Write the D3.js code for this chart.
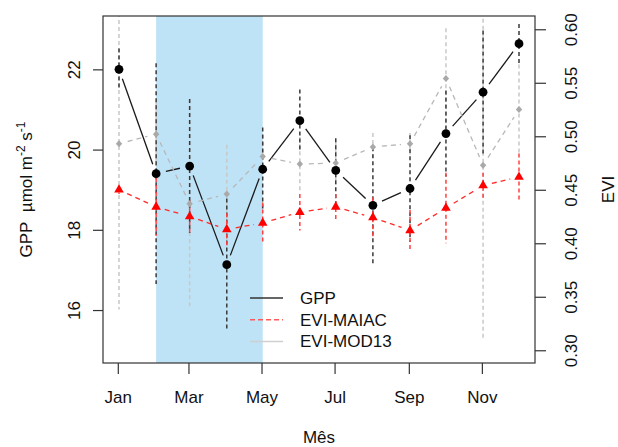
<!DOCTYPE html>
<html>
<head>
<meta charset="utf-8">
<script src="https://cdn.jsdelivr.net/npm/d3@7"></script>
<style>
  body { margin: 0; background: #fff; }
  svg text { font-family: "Liberation Sans", Arial, sans-serif; fill: #111; }
</style>
</head>
<body>
<div id="chart"></div>
<script>
// monthly means and errors
var months = ["Jan","Feb","Mar","Apr","May","Jun","Jul","Aug","Sep","Oct","Nov","Dec"];
var tickMonths = ["Jan","Mar","May","Jul","Sep","Nov"];
var gpp      = [22.00, 19.40, 19.59, 17.13, 19.51, 20.72, 19.48, 18.61, 19.03, 20.40, 21.43, 22.64];
var gppErr   = [0.52, 2.75, 1.67, 1.65, 1.04, 0.78, 0.80, 1.45, 1.33, 1.07, 1.54, 0.49];
var maiac    = [0.450, 0.434, 0.425, 0.413, 0.419, 0.429, 0.434, 0.424, 0.412, 0.433, 0.454, 0.462];
var maiacErr = [0.004, 0.027, 0.015, 0.015, 0.019, 0.017, 0.012, 0.019, 0.019, 0.033, 0.012, 0.022];
var mod13    = [0.493, 0.502, 0.437, 0.446, 0.481, 0.474, 0.475, 0.490, 0.493, 0.554, 0.473, 0.525];
var mod13Err = [0.155, 0.030, 0.0975, 0.046, 0.020, 0.025, 0.020, 0.013, 0.010, 0.047, 0.163, 0.042];
var gppTicks = [16, 18, 20, 22];
var eviTicks = [0.30, 0.35, 0.40, 0.45, 0.50, 0.55, 0.60];
var shadeMonths = ["Feb", "May"];
var legendItems = ["GPP", "EVI-MAIAC", "EVI-MOD13"];

var W = 618, H = 447;
var margin = {top: 16, right: 83, bottom: 84, left: 103};
var width = W - margin.left - margin.right,
    height = H - margin.top - margin.bottom;

var svg = d3.select("#chart").append("svg")
    .attr("width", W).attr("height", H);
var g = svg.append("g")
    .attr("transform", "translate(" + margin.left + "," + margin.top + ")");

// dates: observations on day 2 of each month
var dates = months.map(function(m, i) { return new Date(2015, i, 2); });
var span = dates[11] - dates[0];
var x = d3.scaleTime()
    .domain([new Date(+dates[0] - 0.04 * span), new Date(+dates[11] + 0.04 * span)])
    .range([0, width]);
var yG = d3.scaleLinear().domain([14.68, 23.33]).range([height, 0]);
var yE = d3.scaleLinear().domain([0.2881, 0.6124]).range([height, 0]);

svg.append("clipPath").attr("id", "clip")
  .append("rect").attr("width", width).attr("height", height);
var plot = g.append("g").attr("clip-path", "url(#clip)");

// shaded period
var s0 = dates[months.indexOf(shadeMonths[0])], s1 = dates[months.indexOf(shadeMonths[1])];
plot.append("rect")
    .attr("x", x(s0)).attr("y", 0)
    .attr("width", x(s1) - x(s0)).attr("height", height)
    .attr("fill", "#bee3f6");

function errBars(vals, errs, y, color) {
  plot.append("g").selectAll("line")
    .data(vals).enter().append("line")
      .attr("x1", function(d, i) { return x(dates[i]); })
      .attr("x2", function(d, i) { return x(dates[i]); })
      .attr("y1", function(d, i) { return y(d + errs[i]); })
      .attr("y2", function(d, i) { return y(d - errs[i]); })
      .attr("stroke", color)
      .attr("stroke-width", 1.5)
      .attr("stroke-dasharray", "4,3");
}

// lines with gaps around points (like type = "b")
function gapLine(vals, y, color, dash, gap) {
  var segs = [];
  for (var i = 0; i < vals.length - 1; i++) {
    var x0 = x(dates[i]), y0 = y(vals[i]), x1 = x(dates[i + 1]), y1 = y(vals[i + 1]);
    var len = Math.hypot(x1 - x0, y1 - y0);
    if (len <= 2 * gap) continue;
    var ux = (x1 - x0) / len, uy = (y1 - y0) / len;
    segs.push([x0 + ux * gap, y0 + uy * gap, x1 - ux * gap, y1 - uy * gap]);
  }
  plot.append("g").selectAll("line")
    .data(segs).enter().append("line")
      .attr("x1", function(s) { return s[0]; })
      .attr("y1", function(s) { return s[1]; })
      .attr("x2", function(s) { return s[2]; })
      .attr("y2", function(s) { return s[3]; })
      .attr("stroke", color)
      .attr("stroke-width", 1.3)
      .attr("stroke-dasharray", dash);
}

errBars(mod13, mod13Err, yE, "#c8c8c8");
errBars(gpp, gppErr, yG, "#3a3a3a");
errBars(maiac, maiacErr, yE, "#ff4040");

gapLine(gpp, yG, "#1a1a1a", null, 10);
gapLine(mod13, yE, "#b8b8b8", "5,4", 9);
gapLine(maiac, yE, "#ff2a2a", "5,4", 9);

plot.append("g").selectAll("circle")
  .data(gpp).enter().append("circle")
    .attr("cx", function(d, i) { return x(dates[i]); })
    .attr("cy", function(d) { return yG(d); })
    .attr("r", 4.4)
    .attr("fill", "#000");

plot.append("g").selectAll("path")
  .data(mod13).enter().append("path")
    .attr("d", d3.symbol().type(d3.symbolDiamond2).size(26))
    .attr("transform", function(d, i) { return "translate(" + x(dates[i]) + "," + yE(d) + ") scale(1,1.1)"; })
    .attr("fill", "#a9a9a9");

plot.append("g").selectAll("path")
  .data(maiac).enter().append("path")
    .attr("d", d3.symbol().type(d3.symbolTriangle).size(40))
    .attr("transform", function(d, i) { return "translate(" + x(dates[i]) + "," + yE(d) + ")"; })
    .attr("fill", "#ff0000");

// frame
g.append("rect")
    .attr("width", width).attr("height", height)
    .attr("fill", "none").attr("stroke", "#333").attr("stroke-width", 1.2);

// axes
var xAxis = g.append("g")
    .attr("transform", "translate(0," + height + ")")
    .call(d3.axisBottom(x)
      .tickValues(tickMonths.map(function(m) { return new Date(2015, months.indexOf(m), 1); }))
      .tickFormat(d3.timeFormat("%b"))
      .tickSize(11));
xAxis.select(".domain").remove();
xAxis.selectAll("text").attr("y", 40).attr("dy", 0).style("font-size", "17px");

var yAxisL = g.append("g")
    .call(d3.axisLeft(yG).tickValues(gppTicks).tickSize(10));
yAxisL.select(".domain").remove();
yAxisL.selectAll("text")
    .attr("x", 0).attr("dy", 0)
    .attr("text-anchor", "middle")
    .attr("transform", "translate(-23,0) rotate(-90)")
    .style("font-size", "17px");

var yAxisR = g.append("g")
    .attr("transform", "translate(" + width + ",0)")
    .call(d3.axisRight(yE).tickValues(eviTicks).tickFormat(d3.format(".2f")).tickSize(11));
yAxisR.select(".domain").remove();
yAxisR.selectAll("text")
    .attr("x", 0).attr("dy", 0)
    .attr("text-anchor", "middle")
    .attr("transform", "translate(42,0) rotate(-90)")
    .style("font-size", "17px");

g.selectAll(".tick line").attr("stroke", "#333").attr("stroke-width", 1.2);

// titles
g.append("text")
    .attr("x", width / 2).attr("y", 427)
    .attr("text-anchor", "middle")
    .style("font-size", "17px")
    .text("Mês");

var yl = g.append("text")
    .attr("transform", "translate(-71," + (height / 2) + ") rotate(-90)")
    .attr("text-anchor", "middle")
    .style("font-size", "17px");
yl.append("tspan").text("GPP\u00a0 µmol m");
yl.append("tspan").attr("dy", -7).style("font-size", "12px").text("-2");
yl.append("tspan").attr("dy", 7).text(" s");
yl.append("tspan").attr("dy", -7).style("font-size", "12px").text("-1");

g.append("text")
    .attr("transform", "translate(" + (width + 79) + "," + (height / 2) + ") rotate(-90)")
    .attr("text-anchor", "middle")
    .style("font-size", "17px")
    .text("EVI");

// legend
var legColors = ["#333", "#ff5a5a", "#cfcfcf"];
var legDash = [null, "5,3", null];
var leg = g.selectAll(".leg")
  .data(legendItems).enter().append("g")
    .attr("class", "leg")
    .attr("transform", function(d, i) { return "translate(147," + (282 + i * 21.7) + ")"; });
leg.append("line")
    .attr("x1", 0).attr("x2", 33)
    .attr("stroke", function(d, i) { return legColors[i]; })
    .attr("stroke-width", 1.5)
    .attr("stroke-dasharray", function(d, i) { return legDash[i]; });
leg.append("text")
    .attr("x", 50).attr("dy", "0.35em")
    .style("font-size", "17px")
    .text(function(d) { return d; });
</script>
</body>
</html>
